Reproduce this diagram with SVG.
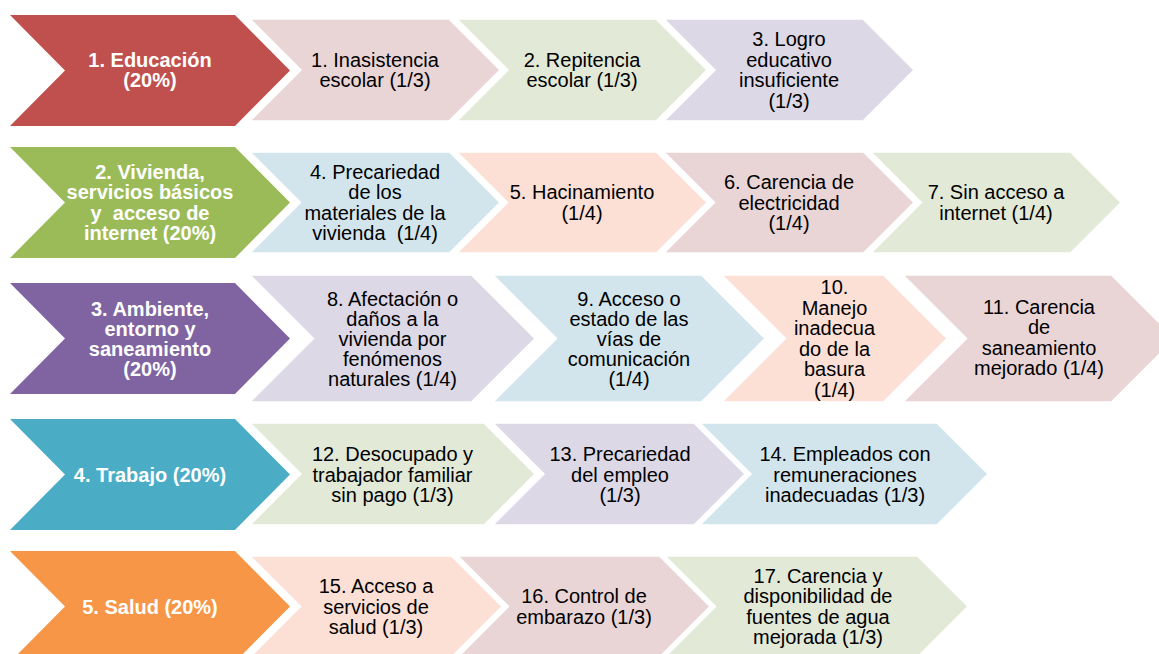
<svg xmlns="http://www.w3.org/2000/svg" width="1159" height="654" viewBox="0 0 1159 654">
<style>
  text { font-family: "Liberation Sans", Arial, sans-serif; font-size: 20px; text-anchor: middle; white-space: pre; }
  .mt { fill: #ffffff; font-weight: bold; }
  .st { fill: #000000; }
  .sec { stroke: #ffffff; stroke-width: 1.5; }
  .red { fill: #C0504D; }
  .grn { fill: #9BBB59; }
  .pur { fill: #8064A2; }
  .teal { fill: #4BACC6; }
  .org { fill: #F79646; }
  .rose { fill: #EAD5D6; }
  .lgrn { fill: #E2E9D7; }
  .lav { fill: #DCD8E6; }
  .lblu { fill: #D3E5EC; }
  .pch { fill: #FCE0D6; }
</style>
<rect x="0" y="0" width="1159" height="654" fill="#ffffff"/>
<g id="connectors"></g>

<!-- Row 1 -->
<g id="main-1">
  <polygon class="red" points="10,15 235,15 290,70.5 235,126 10,126 65,70.5"/>
  <text class="mt" x="150" y="66.75">1. Educación</text>
  <text class="mt" x="150" y="87.25">(20%)</text>
</g>
<g id="ind-1">
  <polygon class="sec rose" points="250,19 449,19 500,70 449,121 250,121 301,70"/>
  <text class="st" x="375" y="66.75">1. Inasistencia</text>
  <text class="st" x="375" y="87.25">escolar (1/3)</text>
</g>
<g id="ind-2">
  <polygon class="sec lgrn" points="457,19 656,19 707,70 656,121 457,121 508,70"/>
  <text class="st" x="582" y="66.75">2. Repitencia</text>
  <text class="st" x="582" y="87.25">escolar (1/3)</text>
</g>
<g id="ind-3">
  <polygon class="sec lav" points="664,19 863,19 914,70 863,121 664,121 715,70"/>
  <text class="st" x="789" y="46.25">3. Logro</text>
  <text class="st" x="789" y="66.75">educativo</text>
  <text class="st" x="789" y="87.25">insuficiente</text>
  <text class="st" x="789" y="107.75">(1/3)</text>
</g>

<!-- Row 2 -->
<g id="main-2">
  <polygon class="grn" points="10,147 235,147 290,202.5 235,258 10,258 65,202.5"/>
  <text class="mt" x="150" y="178.75">2. Vivienda,</text>
  <text class="mt" x="150" y="199.25">servicios básicos</text>
  <text class="mt" x="150" y="219.75">y  acceso de</text>
  <text class="mt" x="150" y="240.25">internet (20%)</text>
</g>
<g id="ind-4">
  <polygon class="sec lblu" points="250,152 449.5,152 500,202.5 449.5,253 250,253 300.5,202.5"/>
  <text class="st" x="375" y="178.75">4. Precariedad</text>
  <text class="st" x="375" y="199.25">de los</text>
  <text class="st" x="375" y="219.75">materiales de la</text>
  <text class="st" x="375" y="240.25">vivienda  (1/4)</text>
</g>
<g id="ind-5">
  <polygon class="sec pch" points="457,152 656.5,152 707,202.5 656.5,253 457,253 507.5,202.5"/>
  <text class="st" x="582" y="199.25">5. Hacinamiento</text>
  <text class="st" x="582" y="219.75">(1/4)</text>
</g>
<g id="ind-6">
  <polygon class="sec rose" points="664,152 863.5,152 914,202.5 863.5,253 664,253 714.5,202.5"/>
  <text class="st" x="789" y="189">6. Carencia de</text>
  <text class="st" x="789" y="209.5">electricidad</text>
  <text class="st" x="789" y="230">(1/4)</text>
</g>
<g id="ind-7">
  <polygon class="sec lgrn" points="871,152 1070.5,152 1121,202.5 1070.5,253 871,253 921.5,202.5"/>
  <text class="st" x="996" y="199.25">7. Sin acceso a</text>
  <text class="st" x="996" y="219.75">internet (1/4)</text>
</g>

<!-- Row 3 -->
<g id="main-3">
  <polygon class="pur" points="10,283 235,283 290,338.5 235,394 10,394 65,338.5"/>
  <text class="mt" x="150" y="315.5">3. Ambiente,</text>
  <text class="mt" x="150" y="335.5">entorno y</text>
  <text class="mt" x="150" y="355.5">saneamiento</text>
  <text class="mt" x="150" y="375.5">(20%)</text>
</g>
<g id="ind-8">
  <polygon class="sec lav" points="250,275 471.5,275 535,338.5 471.5,402 250,402 313.5,338.5"/>
  <text class="st" x="392.5" y="305.5">8. Afectación o</text>
  <text class="st" x="392.5" y="325.5">daños a la</text>
  <text class="st" x="392.5" y="345.5">vivienda por</text>
  <text class="st" x="392.5" y="365.5">fenómenos</text>
  <text class="st" x="392.5" y="385.5">naturales (1/4)</text>
</g>
<g id="ind-9">
  <polygon class="sec lblu" points="493,275 701.5,275 765,338.5 701.5,402 493,402 556.5,338.5"/>
  <text class="st" x="629" y="305.5">9. Acceso o</text>
  <text class="st" x="629" y="325.5">estado de las</text>
  <text class="st" x="629" y="345.5">vías de</text>
  <text class="st" x="629" y="365.5">comunicación</text>
  <text class="st" x="629" y="385.5">(1/4)</text>
</g>
<g id="ind-10">
  <polygon class="sec pch" points="722,275 883.5,275 947,338.5 883.5,402 722,402 785.5,338.5"/>
  <text class="st" x="834.5" y="294.25">10.</text>
  <text class="st" x="834.5" y="314.75">Manejo</text>
  <text class="st" x="834.5" y="335.25">inadecua</text>
  <text class="st" x="834.5" y="355.75">do de la</text>
  <text class="st" x="834.5" y="376.25">basura</text>
  <text class="st" x="834.5" y="396.75">(1/4)</text>
</g>
<g id="ind-11">
  <polygon class="sec rose" points="903,275 1111.5,275 1175,338.5 1111.5,402 903,402 966.5,338.5"/>
  <text class="st" x="1039" y="313.75">11. Carencia</text>
  <text class="st" x="1039" y="334.25">de</text>
  <text class="st" x="1039" y="354.75">saneamiento</text>
  <text class="st" x="1039" y="375.25">mejorado (1/4)</text>
</g>

<!-- Row 4 -->
<g id="main-4">
  <polygon class="teal" points="10,419 235,419 290,474.5 235,530 10,530 65,474.5"/>
  <text class="mt" x="150" y="481.5">4. Trabajo (20%)</text>
</g>
<g id="ind-12">
  <polygon class="sec lgrn" points="250,423 484,423 535,474 484,525 250,525 301,474"/>
  <text class="st" x="392.5" y="461">12. Desocupado y</text>
  <text class="st" x="392.5" y="481.5">trabajador familiar</text>
  <text class="st" x="392.5" y="502">sin pago (1/3)</text>
</g>
<g id="ind-13">
  <polygon class="sec lav" points="493,423 694,423 745,474 694,525 493,525 544,474"/>
  <text class="st" x="620" y="461">13. Precariedad</text>
  <text class="st" x="620" y="481.5">del empleo</text>
  <text class="st" x="620" y="502">(1/3)</text>
</g>
<g id="ind-14">
  <polygon class="sec lblu" points="700,423 937,423 988,474 937,525 700,525 751,474"/>
  <text class="st" x="845" y="461">14. Empleados con</text>
  <text class="st" x="845" y="481.5">remuneraciones</text>
  <text class="st" x="845" y="502">inadecuadas (1/3)</text>
</g>

<!-- Row 5 -->
<g id="main-5">
  <polygon class="org" points="10,551 235,551 290,606.5 235,662 10,662 65,606.5"/>
  <text class="mt" x="150" y="613.5">5. Salud (20%)</text>
</g>
<g id="ind-15">
  <polygon class="sec pch" points="250,556 451.5,556 502,606.5 451.5,657 250,657 300.5,606.5"/>
  <text class="st" x="376" y="593">15. Acceso a</text>
  <text class="st" x="376" y="613.5">servicios de</text>
  <text class="st" x="376" y="634">salud (1/3)</text>
</g>
<g id="ind-16">
  <polygon class="sec rose" points="458,556 659.5,556 710,606.5 659.5,657 458,657 508.5,606.5"/>
  <text class="st" x="584" y="603.25">16. Control de</text>
  <text class="st" x="584" y="623.75">embarazo (1/3)</text>
</g>
<g id="ind-17">
  <polygon class="sec lgrn" points="665,556 917.5,556 968,606.5 917.5,657 665,657 715.5,606.5"/>
  <text class="st" x="818" y="582.75">17. Carencia y</text>
  <text class="st" x="818" y="603.25">disponibilidad de</text>
  <text class="st" x="818" y="623.75">fuentes de agua</text>
  <text class="st" x="818" y="644.25">mejorada (1/3)</text>
</g>
</svg>
